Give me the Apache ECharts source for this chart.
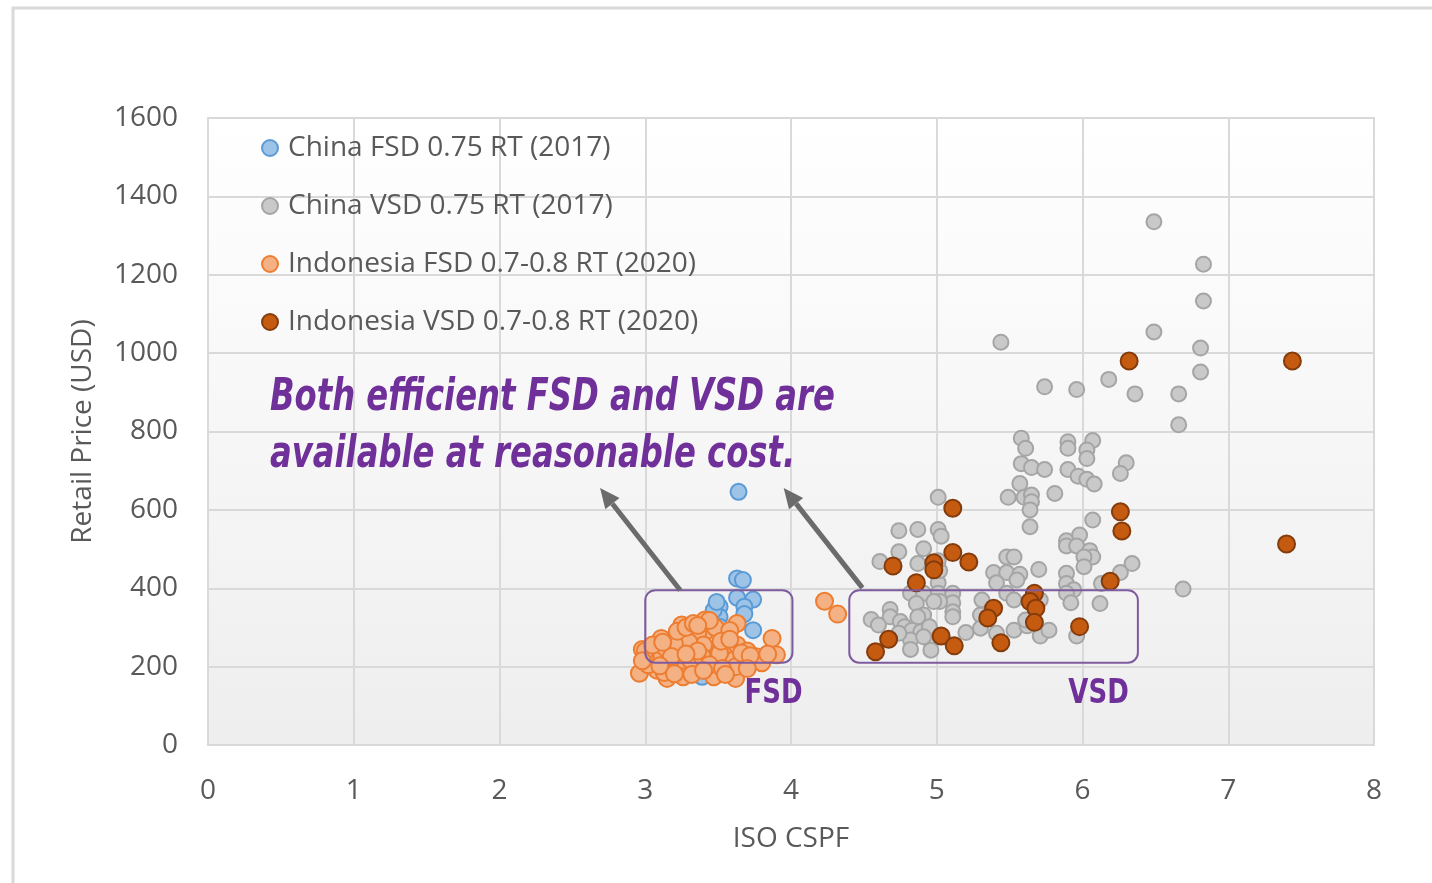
<!DOCTYPE html>
<html>
<head>
<meta charset="utf-8">
<script src="https://cdn.jsdelivr.net/npm/echarts@6/dist/echarts.min.js"></script>
<style>
  html, body { margin: 0; padding: 0; background: #fff; }
  #chart { width: 1432px; height: 883px; }
</style>
</head>
<body>
<div id="chart"></div>
<script>
// ISO CSPF (x) vs retail price in USD (y)
const chinaFsd = [
  [3.64, 646], [3.63, 425], [3.67, 421], [3.63, 376], [3.74, 371], [3.68, 353],
  [3.68, 334], [3.51, 353], [3.51, 327], [3.74, 293], [3.47, 344], [3.51, 302],
  [3.42, 183], [3.39, 174], [3.54, 183], [3.44, 234], [3.49, 365], [3.58, 260]
]

const chinaVsd = [
  [6.49, 1335], [6.83, 1227], [6.83, 1133], [5.44, 1028], [6.49, 1054], [6.81, 1013],
  [6.81, 952], [5.74, 914], [5.96, 907], [6.18, 933], [6.36, 896], [6.66, 896],
  [6.66, 817], [5.58, 783], [5.61, 757], [5.90, 774], [5.90, 757], [6.07, 777],
  [6.03, 753], [6.03, 731], [5.58, 718], [5.65, 708], [5.74, 703], [5.90, 703],
  [5.97, 686], [6.03, 678], [6.08, 666], [6.30, 720], [6.26, 693], [5.57, 667],
  [5.49, 632], [5.60, 632], [5.65, 638], [5.65, 621], [5.81, 642], [5.64, 600],
  [5.64, 557], [5.01, 632], [6.07, 574], [4.74, 547], [4.87, 550], [5.01, 550],
  [5.03, 533], [4.74, 493], [4.91, 501], [4.61, 468], [4.87, 463], [5.89, 521],
  [5.89, 508], [5.98, 536], [5.96, 508], [6.05, 496], [6.07, 480], [6.01, 480],
  [6.01, 455], [6.34, 463], [6.26, 440], [6.13, 412], [6.12, 361], [5.48, 480],
  [5.53, 480], [5.39, 440], [5.48, 440], [5.57, 436], [5.70, 448], [5.41, 414],
  [5.55, 421], [5.89, 438], [5.89, 412], [5.94, 396], [5.89, 387], [5.92, 363],
  [5.48, 387], [5.53, 370], [5.31, 370], [5.30, 332], [5.20, 287], [5.30, 298],
  [5.41, 285], [5.53, 293], [5.62, 304], [5.71, 278], [5.77, 293], [5.96, 278],
  [5.01, 414], [5.01, 387], [4.82, 387], [4.91, 387], [5.11, 387], [5.11, 363],
  [5.11, 340], [5.11, 327], [5.02, 366], [4.98, 366], [4.86, 361], [4.91, 332],
  [4.87, 327], [4.68, 346], [4.68, 327], [4.55, 320], [4.60, 306], [4.75, 315],
  [4.78, 302], [4.83, 293], [4.89, 289], [4.95, 302], [4.82, 268], [4.82, 244],
  [4.96, 264], [4.96, 242], [4.74, 285], [4.91, 276], [5.71, 370], [5.61, 319],
  [6.69, 398], [5.02, 445], [5.01, 470]
]

const indoFsd = [
  [3.87, 272], [3.90, 230], [3.63, 310], [3.41, 319], [3.41, 289], [3.25, 306],
  [3.25, 276], [3.11, 272], [3.55, 281], [3.55, 247], [3.63, 255], [3.36, 285],
  [2.98, 244], [3.10, 238], [3.24, 242], [3.40, 255], [3.46, 217], [3.61, 217],
  [3.69, 217], [3.76, 225], [2.96, 183], [3.08, 191], [3.24, 196], [3.35, 200],
  [3.47, 174], [3.62, 170], [3.62, 200], [3.06, 217], [3.17, 213], [3.31, 217],
  [3.39, 225], [3.51, 234], [3.26, 174], [3.15, 170], [4.23, 367], [4.32, 334],
  [3.30, 262], [3.48, 300], [3.58, 292], [3.20, 258], [3.02, 205], [3.13, 185],
  [3.70, 240], [3.80, 210], [3.44, 205], [3.53, 195], [3.32, 180], [3.00, 226],
  [3.18, 226], [3.36, 240], [3.00, 240], [3.05, 255], [3.12, 262], [3.22, 290],
  [3.28, 300], [3.33, 310], [3.44, 318], [3.36, 305], [3.52, 265], [3.58, 270],
  [3.66, 235], [3.72, 228], [3.84, 232], [2.98, 215], [3.10, 202], [3.20, 182],
  [3.40, 190], [3.55, 180], [3.70, 195], [3.28, 232]
]

const indoVsd = [
  [6.32, 980], [7.44, 980], [7.40, 513], [5.11, 604], [4.70, 457], [4.98, 465],
  [4.98, 447], [5.11, 491], [5.22, 467], [4.86, 414], [6.26, 595], [6.27, 546],
  [6.19, 418], [5.39, 349], [5.35, 324], [5.67, 387], [5.64, 366], [5.68, 349],
  [5.67, 313], [5.98, 302], [4.67, 270], [4.58, 238], [5.03, 278], [5.12, 253],
  [5.44, 261]
]

const seriesNames = [
  'China FSD 0.75 RT (2017)',
  'China VSD 0.75 RT (2017)',
  'Indonesia FSD 0.7-0.8 RT (2020)',
  'Indonesia VSD 0.7-0.8 RT (2020)'
]

// annotation boxes and arrows, in data units
const fsdBox = [[3.0, 395], [4.01, 210]]
const vsdBox = [[4.40, 395], [6.38, 210]]
const arrows = [
  [[3.24, 395], [2.69, 656]],
  [[4.49, 401], [3.95, 656]]
]

const font = '"Open Sans", "Noto Sans", sans-serif'
const noteFont = '"DejaVu Sans Condensed", "DejaVu Sans", sans-serif'
const purple = '#70309a'
const labelColor = '#595959'

const chart = echarts.init(document.getElementById('chart'))

const dot = (color, border, size) => ({
  type: 'scatter',
  symbolSize: size,
  itemStyle: { color: color, borderColor: border, borderWidth: 2, opacity: 1 }
})

const option = {
  backgroundColor: '#fff',
  animation: false,
  grid: {
    left: 208,
    right: 58,
    top: 118,
    bottom: 138,
    show: true,
    borderColor: '#d9d9d9',
    borderWidth: 2,
    backgroundColor: new echarts.graphic.LinearGradient(0, 0, 0, 1, [
      { offset: 0, color: '#ffffff' },
      { offset: 1, color: '#eeeeee' }
    ])
  },
  legend: {
    orient: 'vertical',
    left: 256,
    top: 128,
    itemGap: 28,
    itemWidth: 16,
    itemHeight: 16,
    data: seriesNames,
    textStyle: { fontFamily: font, fontSize: 28, color: labelColor, lineHeight: 30, padding: [0, 0, 0, 5] }
  },
  xAxis: {
    type: 'value',
    min: 0,
    max: 8,
    interval: 1,
    name: 'ISO CSPF',
    nameLocation: 'middle',
    nameGap: 80,
    nameTextStyle: { fontFamily: font, fontSize: 28, color: labelColor },
    axisLine: { lineStyle: { color: '#d9d9d9', width: 2 } },
    axisTick: { show: false },
    axisLabel: { fontFamily: font, fontSize: 28, color: labelColor, margin: 32 },
    splitLine: { lineStyle: { color: '#d9d9d9', width: 2 } }
  },
  yAxis: {
    type: 'value',
    min: 0,
    max: 1600,
    interval: 200,
    name: 'Retail Price (USD)',
    nameLocation: 'middle',
    nameGap: 111,
    nameTextStyle: { fontFamily: font, fontSize: 28, color: labelColor },
    axisLine: { show: true, lineStyle: { color: '#d9d9d9', width: 2 } },
    axisTick: { show: false },
    axisLabel: { fontFamily: font, fontSize: 28, color: labelColor, margin: 30, formatter: (v) => String(v) },
    splitLine: { lineStyle: { color: '#d9d9d9', width: 2 } }
  },
  series: [
    Object.assign(dot('#9dc3e6', '#5b9bd5', 16), { name: seriesNames[0], data: chinaFsd }),
    Object.assign(dot('#c9c9c9', '#a5a5a5', 15), { name: seriesNames[1], data: chinaVsd }),
    Object.assign(dot('#f4b183', '#ed7d31', 17), { name: seriesNames[2], data: indoFsd }),
    Object.assign(dot('#c55a11', '#843c0c', 17), { name: seriesNames[3], data: indoVsd })
  ]
}

chart.setOption(option)

// annotations placed from data coordinates
const px = (p) => chart.convertToPixel({ gridIndex: 0 }, p)

const boxShape = (box) => {
  const a = px(box[0])
  const b = px(box[1])
  return {
    type: 'rect',
    z: 100,
    shape: { x: a[0], y: a[1], width: b[0] - a[0], height: b[1] - a[1], r: 10 },
    style: { fill: 'none', stroke: '#7e5a9e', lineWidth: 2 }
  }
}

const arrowShapes = (arrow) => {
  const a = px(arrow[0])
  const b = px(arrow[1])
  const ang = Math.atan2(b[1] - a[1], b[0] - a[0])
  const len = 20
  const wid = 9
  const base = [b[0] - len * Math.cos(ang), b[1] - len * Math.sin(ang)]
  const nx = -Math.sin(ang)
  const ny = Math.cos(ang)
  return [
    {
      type: 'line',
      z: 100,
      shape: { x1: a[0], y1: a[1], x2: base[0], y2: base[1] },
      style: { stroke: '#6b6b6b', lineWidth: 5 }
    },
    {
      type: 'polygon',
      z: 100,
      shape: {
        points: [
          b,
          [base[0] + nx * wid, base[1] + ny * wid],
          [base[0] - nx * wid, base[1] - ny * wid]
        ]
      },
      style: { fill: '#6b6b6b' }
    }
  ]
}

const tag = (text, pos) => ({
  type: 'text',
  z: 100,
  x: pos[0],
  y: pos[1],
  scaleX: 0.85,
  style: {
    text: text,
    font: 'bold 34px ' + noteFont,
    fill: purple,
    align: 'center',
    verticalAlign: 'middle'
  }
})

chart.setOption({
  graphic: [
    {
      type: 'rect',
      z: -10,
      shape: { x: 13, y: 8, width: 1500, height: 1000 },
      style: { fill: 'none', stroke: '#d9d9d9', lineWidth: 3 }
    },
    boxShape(fsdBox),
    boxShape(vsdBox),
    ...arrowShapes(arrows[0]),
    ...arrowShapes(arrows[1]),
    {
      type: 'text',
      z: 100,
      x: 270,
      y: 370,
      scaleX: 0.815,
      style: {
        text: 'Both efficient FSD and VSD are\navailable at reasonable cost.',
        font: 'italic bold 44px ' + noteFont,
        lineHeight: 57,
        fill: purple
      }
    },
    tag('FSD', px([3.88, 130])),
    tag('VSD', px([6.11, 130]))
  ]
})
</script>
</body>
</html>
